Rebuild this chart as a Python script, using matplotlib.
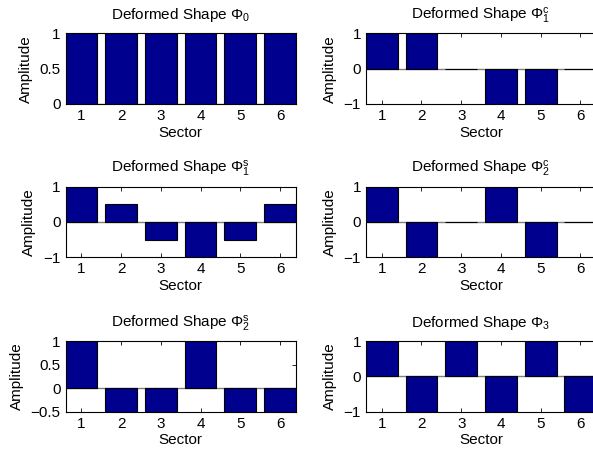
import numpy as np
import matplotlib.pyplot as plt

plt.rcParams['font.family'] = ['Liberation Sans', 'DejaVu Sans']
plt.rcParams['mathtext.fontset'] = 'custom'
plt.rcParams['mathtext.rm'] = 'Liberation Sans'
plt.rcParams['mathtext.it'] = 'Liberation Sans'
plt.rcParams['font.size'] = 11

sectors = [1, 2, 3, 4, 5, 6]

phi_0 = [1, 1, 1, 1, 1, 1]
phi_1c = [1, 1, 0, -1, -1, 0]
phi_1s = [1, 0.5, -0.5, -1, -0.5, 0.5]
phi_2c = [1, -1, 0, 1, -1, 0]
phi_2s = [1, -0.5, -0.5, 1, -0.5, -0.5]
phi_3 = [1, -1, 1, -1, 1, -1]

titles = [r'Deformed Shape $\Phi_0$', r'Deformed Shape $\Phi_1^c$',
          r'Deformed Shape $\Phi_1^s$', r'Deformed Shape $\Phi_2^c$',
          r'Deformed Shape $\Phi_2^s$', r'Deformed Shape $\Phi_3$']
shapes = [phi_0, phi_1c, phi_1s, phi_2c, phi_2s, phi_3]
ylims = [(0, 1), (-1, 1), (-1, 1), (-1, 1), (-0.5, 1), (-1, 1)]
yticks = [[0, 0.5, 1], [-1, 0, 1], [-1, 0, 1], [-1, 0, 1],
          [-0.5, 0, 0.5, 1], [-1, 0, 1]]

fig = plt.figure(figsize=(5.93, 4.63), dpi=100)

# 3x2 grid, right column runs slightly past the figure edge
lefts = [0.1105, 0.617]
bottoms = [0.7754, 0.4443, 0.1108]
w, h = 0.3885, 0.1525

for i, (vals, title) in enumerate(zip(shapes, titles)):
    ax = fig.add_axes([lefts[i % 2], bottoms[i // 2], w, h])
    ax.axhline(0, color='#808080', lw=1, zorder=1)
    ax.bar(sectors, vals, width=0.8, color='#00008f', edgecolor='black',
           linewidth=0.8, zorder=2)
    ax.set_xlim(0.6, 6.4)
    ax.set_ylim(*ylims[i])
    ax.set_xticks(sectors)
    ax.set_yticks(yticks[i])
    ax.set_yticklabels([('%g' % t).replace('-', '\u2212') for t in yticks[i]])
    ax.tick_params(direction='in', length=3, width=0.6, top=True, right=True,
                   labelsize=11, pad=3.5)
    for s in ax.spines.values():
        s.set_linewidth(0.8)
    ax.set_xlabel('Sector', labelpad=2)
    ax.set_ylabel('Amplitude', labelpad=5)
    ax.set_title(title, fontsize=11, pad=10)

fig.savefig('out.png', dpi=100)
